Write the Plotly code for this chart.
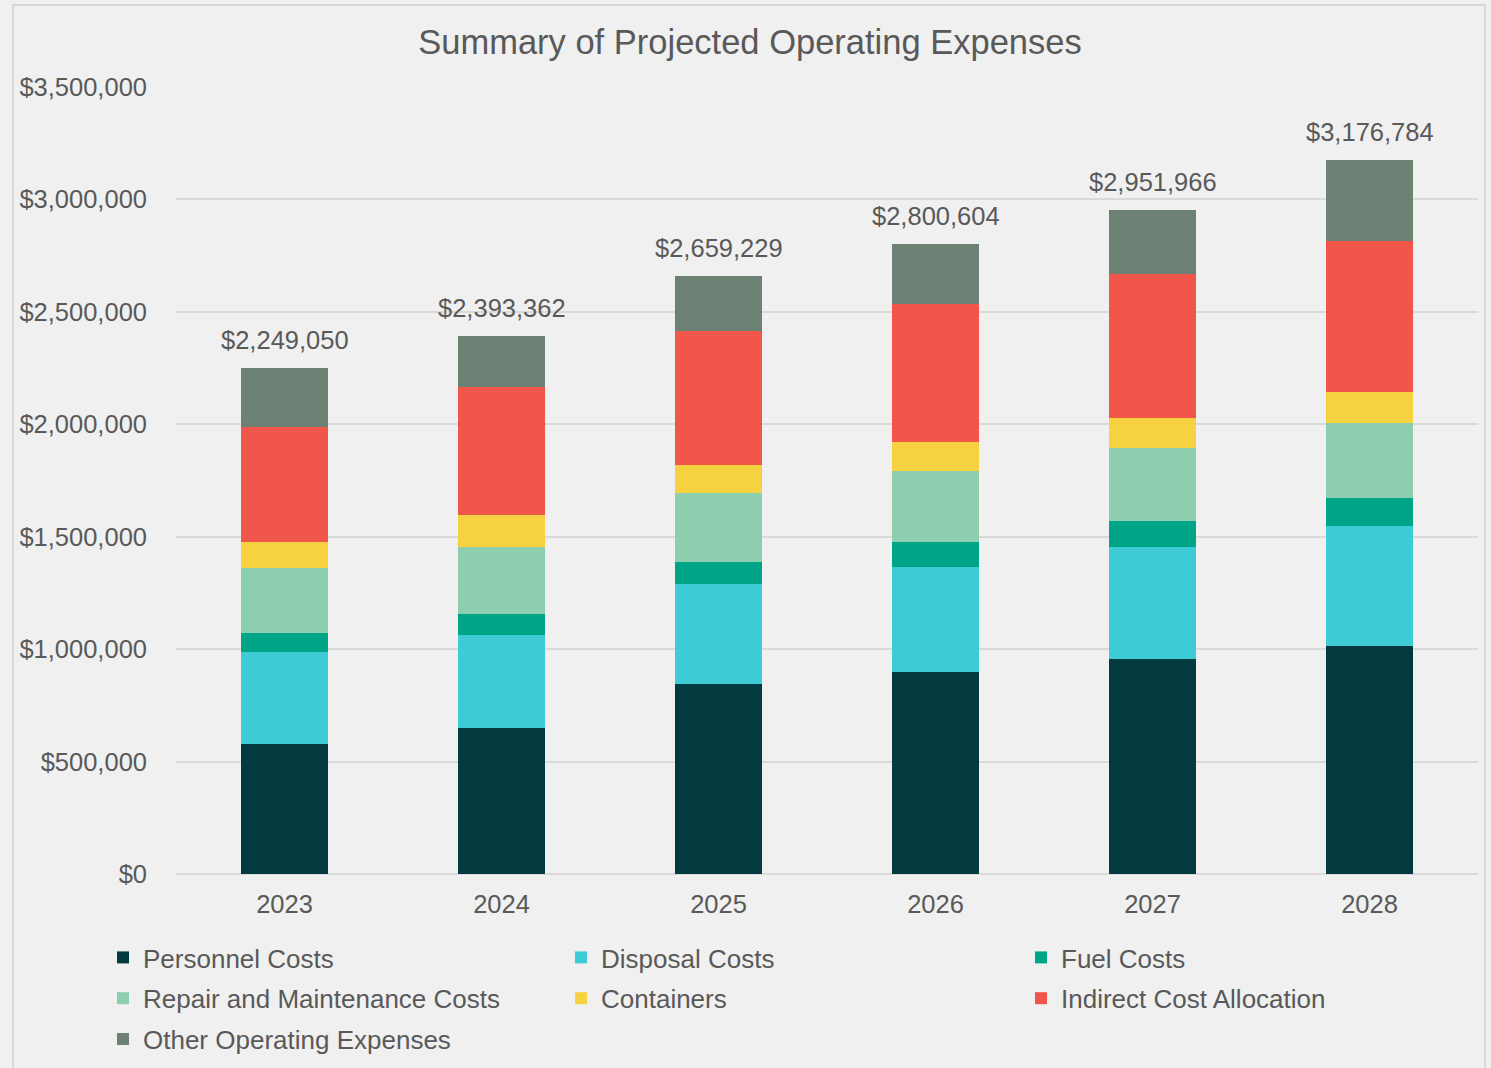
import plotly.graph_objects as go

years = ["2023", "2024", "2025", "2026", "2027", "2028"]
series_names = [
    "Personnel Costs", "Disposal Costs", "Fuel Costs",
    "Repair and Maintenance Costs", "Containers",
    "Indirect Cost Allocation", "Other Operating Expenses",
]
personnel = [577000, 648000, 846000, 899000, 956000, 1015000]
disposal = [410000, 415000, 444000, 468000, 497000, 531000]
fuel = [86000, 92000, 98000, 109000, 115000, 126000]
repair = [287000, 299000, 305000, 315000, 327000, 335000]
containers = [116000, 144000, 128000, 130000, 133000, 137000]
indirect = [514000, 569000, 595000, 614000, 640000, 671000]
other = [259050, 226362, 243229, 265604, 284966, 361784]
totals = [2249050, 2393362, 2659229, 2800604, 2951966, 3176784]
colors = ["#023A3F", "#3FCBD5", "#00A587", "#8DCEAE", "#F6D241", "#F0574A", "#6C8074"]
legend_ids = ["legend", "legend2", "legend3", "legend", "legend2", "legend3", "legend"]

values = [personnel, disposal, fuel, repair, containers, indirect, other]

W, H = 1491, 1068
ML, MR, MT, MB = 176, 13, 87, 194
FONT = "Liberation Sans, Arial, sans-serif"
TXT = "#595959"

fig = go.Figure()
for name, vals, col, lg in zip(series_names, values, colors, legend_ids):
    fig.add_trace(go.Bar(
        x=years, y=vals, name=name, marker=dict(color=col, line=dict(width=0)),
        legend=lg, legendgroup=name,
        hovertemplate="%{x}: $%{y:,.0f}<extra>" + name + "</extra>",
    ))

# category axis: annotations are positioned by category index
for i, tot in enumerate(totals):
    fig.add_annotation(
        x=i, y=tot, xref="x", yref="y", text="${:,.0f}".format(tot), showarrow=False,
        yanchor="bottom", yshift=12, font=dict(family=FONT, size=25.5, color=TXT),
    )

pw = W - ML - MR
ph = H - MT - MB
def px_x(p):
    return (p - ML) / pw
def px_y(p):
    return (H - MB - p) / ph

fig.add_shape(type="rect", xref="paper", yref="paper",
              x0=px_x(13), x1=px_x(1485), y0=px_y(1080), y1=px_y(5),
              line=dict(color="#D6D6D6", width=2), layer="below")

leg_common = dict(
    orientation="v", xref="container", yref="container", yanchor="top", xanchor="left",
    font=dict(family=FONT, size=26, color=TXT), bgcolor="rgba(0,0,0,0)",
    traceorder="grouped", tracegroupgap=4, borderwidth=0,
)
ytop = 1 - 934 / H

fig.update_layout(
    width=W, height=H,
    margin=dict(l=ML, r=MR, t=MT, b=MB, autoexpand=False),
    paper_bgcolor="#F0F0F0", plot_bgcolor="#F0F0F0",
    barmode="stack", bargap=0.6,
    font=dict(family=FONT, color=TXT),
    title=dict(text="Summary of Projected Operating Expenses", x=750 / W, xanchor="center",
               y=1 - 42 / H, yanchor="middle", yref="container",
               font=dict(family=FONT, size=34.5, color=TXT)),
    xaxis=dict(type="category", showgrid=False, showline=False, zeroline=False, ticks="",
               tickfont=dict(family=FONT, size=25.5, color=TXT), ticklabelstandoff=12),
    yaxis=dict(range=[0, 3500000], dtick=500000, tickprefix="$", tickformat=",d",
               showgrid=True, gridcolor="#D9D9D9", gridwidth=1.5, zeroline=True,
               zerolinecolor="#D9D9D9", zerolinewidth=1.5, showline=False, ticks="",
               tickfont=dict(family=FONT, size=25.5, color=TXT), ticklabelstandoff=28),
    legend=dict(x=103 / W, y=ytop, **leg_common),
    legend2=dict(x=561 / W, y=ytop, **leg_common),
    legend3=dict(x=1021 / W, y=ytop, **leg_common),
)

fig.write_html("out.html", config={"displayModeBar": False},
               post_script="document.body.style.margin='0';document.body.style.background='#F0F0F0';")
